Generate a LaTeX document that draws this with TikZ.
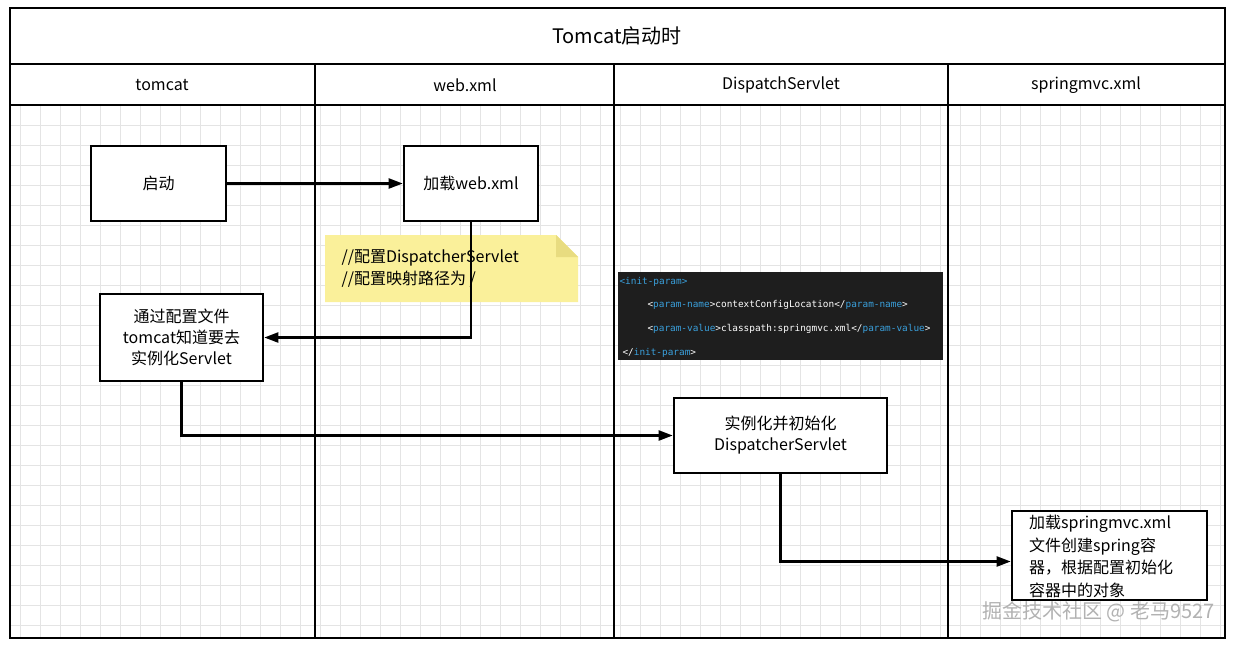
\documentclass[tikz,border=0pt]{standalone}
\usepackage{fontspec}
\setmainfont{Noto Sans CJK SC}
\newfontfamily\codefont{DejaVu Sans Mono}
\usetikzlibrary{arrows.meta}
\definecolor{gridc}{HTML}{E4E4E4}
\definecolor{notec}{HTML}{FAF09A}
\definecolor{notef}{HTML}{E8DC80}
\definecolor{codebg}{HTML}{1E1E1E}
\definecolor{kw}{HTML}{3AA0DC}
\begin{document}
\begin{tikzpicture}[x=1pt,y=-1pt,
  box/.style={draw=black,line width=2.6pt,fill=white,align=center,font=\fontsize{16}{21}\selectfont,inner sep=0pt},
  arr/.style={draw=black,line width=2.2pt,-{Triangle[length=14pt,width=10pt]}},
  hdr/.style={font=\fontsize{16}{20}\selectfont},
  code/.style={anchor=west,font=\codefont\fontsize{9.4}{12}\selectfont,text=white}]
\useasboundingbox (0,0) rectangle (1234,646);
\fill[white] (0,0) rectangle (1234,646);
% grid
\begin{scope}
\clip (10,105) rectangle (1225,638);
\foreach \x in {0,20,...,1240} \draw[gridc,line width=1pt] (\x,105) -- (\x,646);
\foreach \y in {105,125,...,646} \draw[gridc,line width=1pt] (0,\y) -- (1234,\y);
\end{scope}
% frame
\draw[line width=2.6pt] (10,8) rectangle (1225,638);
\draw[line width=2.6pt] (10,64) -- (1225,64);
\draw[line width=2.6pt] (10,105) -- (1225,105);
\foreach \x in {315,614,948} \draw[line width=2.6pt] (\x,64) -- (\x,638);
\node[font=\fontsize{20}{24}\selectfont] (title) at (617,36) {Tomcat启动时};
\node[hdr] (h1) at (162,85) {tomcat};
\node[hdr] (h2) at (465,85) {web.xml};
\node[hdr] (h3) at (781,85) {DispatchServlet};
\node[hdr] (h4) at (1086,85) {springmvc.xml};
% note
\fill[notec] (325,235) -- (556,235) -- (578,257) -- (578,302) -- (325,302) -- cycle;
\fill[notef] (556,235) -- (556,257) -- (578,257) -- cycle;
\node[align=left,anchor=west,font=\fontsize{16}{22}\selectfont] (note) at (338,269) {//配置DispatcherServlet\\//配置映射路径为 /};
% code
\fill[codebg] (618,272) rectangle (943,360);
\node[code] (c1) at (616,282) {\textcolor{kw}{<init-param>}};
\node[code] (c2) at (644,305) {<\textcolor{kw}{param-name}>contextConfigLocation</\textcolor{kw}{param-name}>};
\node[code] (c3) at (644,329) {<\textcolor{kw}{param-value}>classpath:springmvc.xml</\textcolor{kw}{param-value}>};
\node[code] (c4) at (619,353) {</\textcolor{kw}{init-param}>};
% boxes
\node[box,minimum width=135pt,minimum height=75pt] (start) at (158.5,183.5) {启动};
\node[box,minimum width=134pt,minimum height=75pt] (web) at (471,183.5) {加载web.xml};
\node[box,minimum width=163pt,minimum height=87pt] (tc) at (181.5,337.5) {通过配置文件\\tomcat知道要去\\实例化Servlet};
\node[box,minimum width=213pt,minimum height=75pt] (inst) at (780.5,435.5) {实例化并初始化\\DispatcherServlet};
\node[box,minimum width=195pt,minimum height=89pt] (sp) at (1109.5,555.5) {};
\node[align=left,anchor=north west,font=\fontsize{16}{22.5}\selectfont,inner sep=0pt] (spt) at (1029,515) {加载springmvc.xml\\文件创建spring容\\器，根据配置初始化\\容器中的对象};
% arrows
\draw[arr] (start.east) -- (web.west);
\draw[arr] (web.south) |- (tc.east);
\draw[arr] (tc.south) |- (inst.west);
\draw[arr] (inst.south) |- ([yshift=-6pt]sp.west);
% watermark
\node[text=gray!60,font=\fontsize{20}{24}\selectfont,anchor=east] (wm) at (1218,612) {掘金技术社区 @ 老马9527};
\end{tikzpicture}
\end{document}
